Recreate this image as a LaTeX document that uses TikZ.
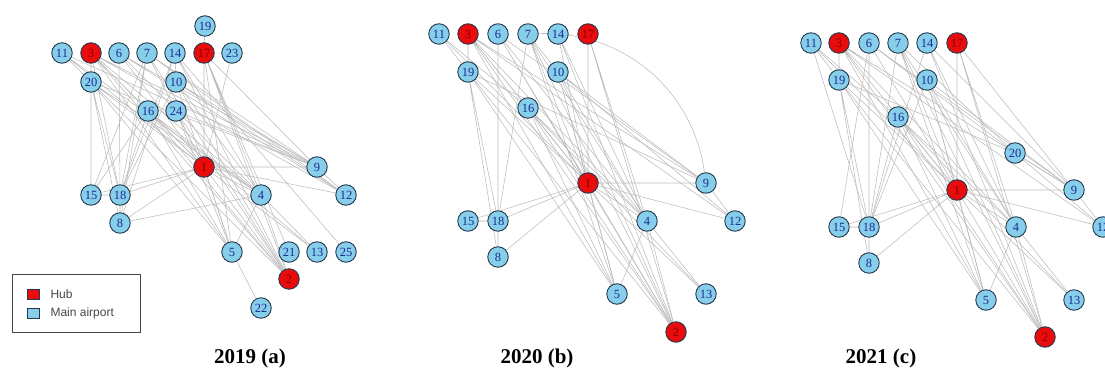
\documentclass[tikz,border=0pt]{standalone}
\usepackage{fontspec}
\setmainfont{Liberation Serif}
\newfontfamily\legendfont{Liberation Sans}
\usepackage{tikz}
\usetikzlibrary{positioning}
\usetikzlibrary{backgrounds}
\definecolor{apBlue}  {RGB}{135,206,235}
\definecolor{apBorder}{RGB}{35,58,78}
\definecolor{apText}  {RGB}{25,45,145}
\definecolor{hubRed}  {RGB}{232,12,12}
\definecolor{hubText} {RGB}{140,0,0}
\definecolor{linkGray}{RGB}{188,188,188}
\definecolor{legGray} {RGB}{70,70,70}

\begin{document}
\begin{tikzpicture}
[x=1pt, y=-1pt,
  airport/.style = { draw=apBorder, fill=apBlue, text=apText, circle, inner sep=0pt,
                     minimum size=20.5pt, line width=0.9pt, font=\fontsize{12.5}{12.5}\selectfont },
  hub/.style     = { airport, fill=hubRed, text=hubText },
  link/.style    = { draw=linkGray, line width=0.55pt },
  keybox/.style  = { draw=apBorder, line width=0.7pt, inner sep=0pt, minimum width=12pt, minimum height=10pt },
  keytext/.style = { text=legGray, font=\legendfont\fontsize{12}{12}\selectfont, inner sep=0pt },
  caption/.style = { font=\fontsize{21}{21}\selectfont\bfseries }
]

\useasboundingbox (0,0) rectangle (1105,371);

% Panel (a), 2019:
\node[airport] (a11) at ( 62, 53) {11};
\node[hub]     (a3)  at ( 91, 53) {3};
\node[airport] (a6)  at (119, 53) {6};
\node[airport] (a7)  at (147, 53) {7};
\node[airport] (a14) at (175, 53) {14};
\node[hub]     (a17) at (204, 53) {17};
\node[airport] (a23) at (232, 53) {23};
\node[airport] (a19) at (205, 26) {19};
\node[airport] (a20) at ( 91, 82) {20};
\node[airport] (a10) at (176, 82) {10};
\node[airport] (a16) at (148,111) {16};
\node[airport] (a24) at (176,111) {24};
\node[hub]     (a1)  at (204,167) {1};
\node[airport] (a9)  at (317,167) {9};
\node[airport] (a15) at ( 91,195) {15};
\node[airport] (a18) at (120,195) {18};
\node[airport] (a4)  at (261,195) {4};
\node[airport] (a12) at (346,195) {12};
\node[airport] (a8)  at (120,223) {8};
\node[airport] (a5)  at (232,252) {5};
\node[airport] (a21) at (289,252) {21};
\node[airport] (a13) at (317,252) {13};
\node[airport] (a25) at (346,252) {25};
\node[hub]     (a2)  at (289,279) {2};
\node[airport] (a22) at (261,308) {22};

% Panel (b), 2020:
\node[airport] (b11) at (439, 34) {11};
\node[hub]     (b3)  at (468, 34) {3};
\node[airport] (b6)  at (498, 34) {6};
\node[airport] (b7)  at (528, 34) {7};
\node[airport] (b14) at (558, 34) {14};
\node[hub]     (b17) at (588, 34) {17};
\node[airport] (b19) at (468, 72) {19};
\node[airport] (b10) at (558, 72) {10};
\node[airport] (b16) at (528,108) {16};
\node[hub]     (b1)  at (588,183) {1};
\node[airport] (b9)  at (706,183) {9};
\node[airport] (b15) at (468,221) {15};
\node[airport] (b18) at (498,221) {18};
\node[airport] (b4)  at (647,221) {4};
\node[airport] (b12) at (735,221) {12};
\node[airport] (b8)  at (498,257) {8};
\node[airport] (b5)  at (617,294) {5};
\node[airport] (b13) at (706,294) {13};
\node[hub]     (b2)  at (676,332) {2};

% Panel (c), 2021:
\node[airport] (c11) at ( 811, 43) {11};
\node[hub]     (c3)  at ( 839, 43) {3};
\node[airport] (c6)  at ( 869, 43) {6};
\node[airport] (c7)  at ( 898, 43) {7};
\node[airport] (c14) at ( 927, 43) {14};
\node[hub]     (c17) at ( 957, 43) {17};
\node[airport] (c19) at ( 839, 80) {19};
\node[airport] (c10) at ( 927, 80) {10};
\node[airport] (c16) at ( 898,117) {16};
\node[airport] (c20) at (1015,153) {20};
\node[hub]     (c1)  at ( 957,190) {1};
\node[airport] (c9)  at (1074,190) {9};
\node[airport] (c15) at ( 839,227) {15};
\node[airport] (c18) at ( 869,227) {18};
\node[airport] (c4)  at (1016,227) {4};
\node[airport] (c12) at (1103,227) {12};
\node[airport] (c8)  at ( 869,263) {8};
\node[airport] (c5)  at ( 986,300) {5};
\node[airport] (c13) at (1074,300) {13};
\node[hub]     (c2)  at (1045,337) {2};

% Links, behind the nodes:
\begin{scope}[on background layer]
% (a)
\draw[link] (a11) -- (a20) (a11) -- (a1) (a11) -- (a9) (a11) -- (a4);
\draw[link] (a3) -- (a20) (a3) -- (a18) (a3) -- (a1) (a3) -- (a9) (a3) -- (a12)
            (a3) -- (a4) (a3) -- (a5) (a3) -- (a2) (a3) -- (a16);
\draw[link] (a6) -- (a18) (a6) -- (a1) (a6) -- (a9) (a6) -- (a12) (a6) -- (a4);
\draw[link] (a7) -- (a15) (a7) -- (a18) (a7) -- (a8) (a7) -- (a1) (a7) -- (a9)
            (a7) -- (a12) (a7) -- (a2);
\draw[link] (a14) -- (a10) (a14) -- (a18) (a14) -- (a8) (a14) -- (a4) (a14) -- (a2) (a14) -- (a25);
\draw[link] (a17) -- (a19) (a17) -- (a1) (a17) -- (a9) (a17) -- (a4) (a17) -- (a2)
            (a17) -- (a21) (a17) -- (a5);
\draw[link] (a23) -- (a1);
\draw[link] (a20) -- (a15) (a20) -- (a18) (a20) -- (a8) (a20) -- (a1) (a20) -- (a5)
            (a20) -- (a2) (a20) -- (a4) (a20) -- (a9);
\draw[link] (a10) -- (a18) (a10) -- (a1) (a10) -- (a4) (a10) -- (a2) (a10) -- (a12)
            (a10) -- (a9) (a10) -- (a5);
\draw[link] (a16) -- (a15) (a16) -- (a18) (a16) -- (a5) (a16) -- (a2) (a16) -- (a4)
            (a16) -- (a13) (a16) -- (a1);
\draw[link] (a24) -- (a1) (a24) -- (a5) (a24) -- (a9) (a24) -- (a2);
\draw[link] (a1) -- (a15) (a1) -- (a18) (a1) -- (a8) (a1) -- (a9) (a1) -- (a12)
            (a1) -- (a5) (a1) -- (a2) (a1) -- (a4) (a1) -- (a13);
\draw[link] (a4) -- (a8) (a4) -- (a5) (a4) -- (a13) (a4) -- (a2);
\draw[link] (a5) -- (a22) (a9) -- (a12) (a18) -- (a8) (a18) -- (a15);
% (b)
\draw[link] (b11) -- (b19) (b11) -- (b16) (b11) -- (b1);
\draw[link] (b3) -- (b19) (b3) -- (b1) (b3) -- (b9) (b3) -- (b12) (b3) -- (b4)
            (b3) -- (b5) (b3) -- (b2) (b3) -- (b16);
\draw[link] (b6) -- (b18) (b6) -- (b1) (b6) -- (b9) (b6) -- (b4) (b6) -- (b2);
\draw[link] (b7) -- (b18) (b7) -- (b10) (b7) -- (b1) (b7) -- (b4) (b7) -- (b5) (b7) -- (b2);
\draw[link] (b7) to[bend left=42] (b9);
\draw[link] (b14) -- (b4) (b14) -- (b2) (b14) -- (b1);
\draw[link] (b17) -- (b1) (b17) -- (b4) (b17) -- (b2);
\draw[link] (b19) -- (b18) (b19) -- (b8) (b19) -- (b1) (b19) -- (b5) (b19) -- (b2) (b19) -- (b9);
\draw[link] (b10) -- (b1) (b10) -- (b4) (b10) -- (b5) (b10) -- (b2) (b10) -- (b9) (b10) -- (b12);
\draw[link] (b16) -- (b1) (b16) -- (b5) (b16) -- (b2) (b16) -- (b4) (b16) -- (b13);
\draw[link] (b1) -- (b15) (b1) -- (b18) (b1) -- (b8) (b1) -- (b9) (b1) -- (b12)
            (b1) -- (b5) (b1) -- (b2) (b1) -- (b4) (b1) -- (b13);
\draw[link] (b4) -- (b5) (b4) -- (b13) (b4) -- (b2);
\draw[link] (b9) -- (b12) (b18) -- (b15) (b18) -- (b8);
% (c)
\draw[link] (c11) -- (c19) (c11) -- (c18) (c11) -- (c16) (c11) -- (c1);
\draw[link] (c3) -- (c19) (c3) -- (c20) (c3) -- (c9) (c3) -- (c1) (c3) -- (c4)
            (c3) -- (c5) (c3) -- (c2) (c3) -- (c12);
\draw[link] (c6) -- (c18) (c6) -- (c15) (c6) -- (c20) (c6) -- (c9) (c6) -- (c1);
\draw[link] (c7) -- (c18) (c7) -- (c1) (c7) -- (c4) (c7) -- (c5) (c7) -- (c2) (c7) -- (c20);
\draw[link] (c14) -- (c18) (c14) -- (c4) (c14) -- (c2) (c14) -- (c9);
\draw[link] (c17) -- (c1) (c17) -- (c9) (c17) -- (c4) (c17) -- (c2);
\draw[link] (c19) -- (c18) (c19) -- (c8) (c19) -- (c1) (c19) -- (c5) (c19) -- (c2) (c19) -- (c20);
\draw[link] (c10) -- (c18) (c10) -- (c1) (c10) -- (c4) (c10) -- (c5) (c10) -- (c2) (c10) -- (c9);
\draw[link] (c16) -- (c18) (c16) -- (c1) (c16) -- (c5) (c16) -- (c2) (c16) -- (c4) (c16) -- (c13);
\draw[link] (c20) -- (c9) (c20) -- (c12);
\draw[link] (c1) -- (c15) (c1) -- (c18) (c1) -- (c8) (c1) -- (c9) (c1) -- (c12)
            (c1) -- (c5) (c1) -- (c2) (c1) -- (c4) (c1) -- (c13);
\draw[link] (c4) -- (c5) (c4) -- (c13) (c4) -- (c2);
\draw[link] (c9) -- (c12) (c18) -- (c15) (c18) -- (c8);
\end{scope}

% Legend:
\node[draw=legGray, line width=0.8pt, minimum width=128pt, minimum height=58pt] (legend) at (76,303) {};
\node[keybox, fill=hubRed] (keyhub)  at (33,294) {};
\node[keybox, fill=apBlue] (keymain) at (33,313) {};
\node[keytext, right=11pt of keyhub]  (hubtext)  {Hub};
\node[keytext, right=11pt of keymain] (maintext) {Main airport};

% Captions:
\node[caption] (capa) at (250,358) {2019 (a)};
\node[caption] (capb) at (537,358) {2020 (b)};
\node[caption] (capc) at (881,358) {2021 (c)};
\end{tikzpicture}
\end{document}
